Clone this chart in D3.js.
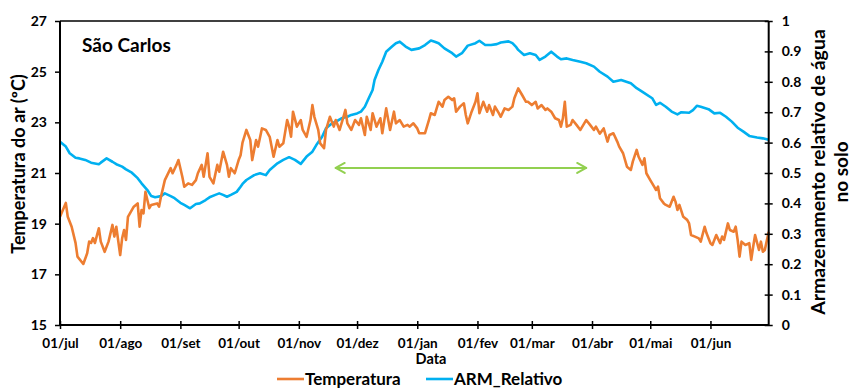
<!DOCTYPE html>
<html>
<head>
<meta charset="utf-8">
<script src="https://cdn.jsdelivr.net/npm/d3@7"></script>
<style>
  html, body { margin: 0; padding: 0; background: #fff; }
  svg { display: block; font-family: Lato, "Open Sans", sans-serif; }
</style>
</head>
<body>
<svg id="chart" width="852" height="388"></svg>
<script>
// ---------------- data (day offset from 01/jul) ----------------
const tempDays = [0,3,4,6,8,9,12,14,15,16,17,18,20,21,23,25,27,28,29,31,32,33,34,35,38,40,41,42,43,44,46,47,50,51,52,54,57,58,60,61,63,64,66,68,70,71,73,74,76,77,79,81,82,84,86,87,88,90,92,93,94,96,98,99,100,101,102,104,106,108,110,112,113,115,117,118,119,120,122,124,125,127,129,130,131,133,134,136,137,139,141,142,144,146,147,148,150,152,154,155,157,158,160,161,163,165,166,168,170,172,173,175,177,179,180,182,184,185,188,190,191,193,195,197,198,200,202,203,204,206,208,209,210,212,214,215,216,218,220,221,223,224,226,227,229,231,233,234,236,238,240,241,243,245,246,248,250,251,253,255,257,258,259,260,261,263,264,266,268,270,271,273,275,276,278,280,282,283,285,287,288,290,292,294,295,297,298,300,301,302,304,306,307,308,309,311,312,314,316,317,318,319,321,323,324,325,327,329,330,332,333,335,336,338,340,341,342,344,345,347,348,349,350,351,353,355,356,357,358,360,361,362,363,365];
const tempValues = [19.27,19.82,19.27,18.88,18.24,17.70,17.41,17.83,18.29,18.24,18.43,18.24,18.82,18.29,17.89,18.29,18.95,18.49,18.88,17.76,18.42,18.75,18.36,19.27,19.67,19.80,18.88,19.54,19.41,20.26,19.61,19.74,19.80,19.67,20.06,20.72,21.19,20.99,21.32,21.51,20.85,20.46,20.59,20.53,20.72,20.99,21.32,20.85,21.78,20.85,20.59,21.32,21.05,21.84,21.32,20.85,21.19,20.99,21.51,21.70,22.20,22.70,22.30,21.51,21.91,22.30,22.04,22.76,22.70,22.43,21.64,22.30,22.04,22.17,23.09,22.83,22.43,23.42,22.83,23.09,22.70,22.43,23.09,23.68,23.22,22.70,22.17,21.98,22.70,23.22,22.83,23.09,22.70,23.22,23.49,22.96,22.70,23.09,22.90,23.16,22.50,23.22,22.70,23.36,22.83,23.16,22.57,23.55,22.70,23.42,22.96,23.09,22.83,22.90,22.83,22.96,22.76,22.57,22.57,23.09,23.36,23.29,23.81,23.62,23.88,24.01,23.88,23.95,23.42,23.62,23.75,23.29,22.96,23.42,23.81,24.15,23.36,23.81,23.42,23.68,23.29,23.62,23.36,23.22,23.55,23.49,23.62,23.95,24.34,24.08,23.81,23.81,23.68,23.81,23.55,23.68,23.49,23.55,23.42,23.16,23.09,22.83,23.16,23.81,22.83,22.90,23.09,22.90,22.70,22.96,23.09,22.90,22.70,22.83,22.55,22.76,22.24,22.50,22.57,22.24,22.04,21.78,21.25,21.12,21.45,21.91,21.64,21.32,21.58,20.99,20.72,20.46,20.33,20.46,20.00,19.80,19.74,19.67,20.06,19.87,19.54,19.74,19.27,19.15,19.01,18.55,18.49,18.42,18.29,18.88,18.62,18.23,18.16,18.55,18.23,18.49,18.36,19.01,18.75,18.68,18.88,18.36,17.70,18.29,18.16,18.23,17.57,18.09,18.55,17.96,18.29,17.89,17.96,18.68];

const armDays = [0,3,5,8,10,13,16,20,21,24,27,29,32,34,37,40,42,45,47,49,52,54,57,59,62,64,67,70,72,75,77,80,82,84,86,88,91,93,94,96,100,103,106,108,112,115,118,121,124,127,130,132,135,137,140,143,145,148,150,153,155,157,159,161,162,164,166,168,171,173,175,178,181,185,188,191,193,195,198,202,204,207,210,214,216,219,222,225,227,231,233,235,236,239,242,245,247,250,253,256,258,261,264,268,271,275,278,282,285,289,294,297,300,305,307,309,312,315,318,320,324,326,328,330,334,337,340,343,346,349,352,355,359,362,365];
const armValues = [0.603,0.587,0.565,0.550,0.548,0.543,0.534,0.529,0.534,0.548,0.537,0.529,0.521,0.512,0.501,0.483,0.466,0.444,0.424,0.420,0.424,0.433,0.424,0.417,0.402,0.395,0.384,0.398,0.400,0.411,0.420,0.428,0.433,0.428,0.422,0.428,0.438,0.455,0.464,0.477,0.493,0.499,0.493,0.510,0.532,0.543,0.552,0.543,0.530,0.554,0.570,0.592,0.619,0.647,0.663,0.672,0.680,0.685,0.691,0.696,0.702,0.718,0.746,0.773,0.806,0.839,0.866,0.899,0.916,0.927,0.932,0.916,0.905,0.910,0.921,0.936,0.932,0.927,0.910,0.894,0.883,0.894,0.919,0.927,0.935,0.921,0.921,0.924,0.929,0.933,0.927,0.914,0.905,0.888,0.894,0.888,0.872,0.883,0.899,0.883,0.874,0.877,0.872,0.866,0.861,0.850,0.833,0.817,0.800,0.806,0.795,0.779,0.767,0.746,0.724,0.731,0.718,0.702,0.693,0.700,0.698,0.707,0.721,0.718,0.710,0.696,0.698,0.685,0.669,0.649,0.636,0.622,0.617,0.614,0.609];

const monthLabels = ["jul","ago","set","out","nov","dez","jan","fev","mar","abr","mai","jun"];
const tempTicks = [15,17,19,21,23,25,27];
const armTicks = [0,0.1,0.2,0.3,0.4,0.5,0.6,0.7,0.8,0.9,1];
const arrowStartDay = 142, arrowEndDay = 271, arrowLevel = 21.2;
const seriesNames = ["Temperatura","ARM_Relativo"];
const chartTitle = "São Carlos";

// ---------------- layout ----------------
const L = 60, R = 768.7, T = 21, B = 325;
const colT = "#ED7D31", colA = "#00B0F0", colG = "#92D050";
const start = new Date(2001, 6, 1), end = new Date(2002, 6, 1);
const dayDate = d => d3.timeDay.offset(start, d);

const x = d3.scaleTime().domain([start, end]).range([L, R]);
const yT = d3.scaleLinear().domain([15, 27]).range([B, T]);
const yA = d3.scaleLinear().domain([0, 1]).range([B, T]);

const svg = d3.select("#chart");
svg.append("rect").attr("width", 852).attr("height", 388).attr("fill", "#fff");

// top border
svg.append("line").attr("x1", L).attr("x2", R).attr("y1", T).attr("y2", T)
  .attr("stroke", "#000").attr("stroke-width", 1.3);

// series
const tempData = tempDays.map((d, i) => [dayDate(d), tempValues[i]]);
const armData = armDays.map((d, i) => [dayDate(d), armValues[i]]);

svg.append("path").datum(armData)
  .attr("fill", "none").attr("stroke", colA).attr("stroke-width", 2.6)
  .attr("stroke-linejoin", "round")
  .attr("d", d3.line().x(d => x(d[0])).y(d => yA(d[1])));

svg.append("path").datum(tempData)
  .attr("fill", "none").attr("stroke", colT).attr("stroke-width", 2.6)
  .attr("stroke-linejoin", "round")
  .attr("d", d3.line().x(d => x(d[0])).y(d => yT(d[1])));

// green double arrow
const ax1 = x(dayDate(arrowStartDay)), ax2 = x(dayDate(arrowEndDay)), ay = yT(arrowLevel);
const g = svg.append("g").attr("stroke", colG).attr("stroke-width", 2).attr("fill", "none")
  .attr("stroke-linecap", "round").attr("stroke-linejoin", "round");
g.append("line").attr("x1", ax1).attr("x2", ax2).attr("y1", ay).attr("y2", ay);
g.append("path").attr("d", `M${ax1 + 9},${ay - 5}L${ax1},${ay}L${ax1 + 9},${ay + 5}`);
g.append("path").attr("d", `M${ax2 - 9},${ay - 5}L${ax2},${ay}L${ax2 - 9},${ay + 5}`);

// left axis
const leftAxis = d3.axisLeft(yT).tickValues(tempTicks).tickSize(5).tickPadding(8).tickFormat(d3.format("d"));
const gl = svg.append("g").attr("transform", `translate(${L},0)`).call(leftAxis);
// right axis
const rightAxis = d3.axisRight(yA).tickValues(armTicks).tickSize(4).tickPadding(9)
  .tickFormat(d => d === 0 ? "0" : d === 1 ? "1" : d3.format(".1f")(d));
const gr = svg.append("g").attr("transform", `translate(${R},0)`).call(rightAxis);
gr.selectAll(".tick line").attr("x1", -4).attr("x2", 4);
// bottom axis
const months = d3.timeMonth.range(start, end);
const bottomAxis = d3.axisBottom(x).tickValues(months).tickSize(4).tickPadding(9)
  .tickFormat((d, i) => "01/" + monthLabels[i]);
const gb = svg.append("g").attr("transform", `translate(0,${B})`).call(bottomAxis);
gb.selectAll(".tick line").attr("y1", -4).attr("y2", 4);

[gl, gr, gb].forEach(a => {
  a.select(".domain").attr("stroke", "#000").attr("stroke-width", 2);
  a.selectAll(".tick line").attr("stroke", "#000").attr("stroke-width", 1.5);
  a.selectAll("text").attr("fill", "#000").attr("font-family", "Lato, sans-serif")
    .attr("font-weight", "bold").attr("font-size", 14);
});
gl.select(".domain").attr("d", `M0,${T}V${B}`);
gr.select(".domain").attr("d", `M0,${T}V${B}`);
gb.select(".domain").attr("d", `M${L},0H${R}`);
gb.selectAll("text").attr("font-size", 13.5).attr("font-weight", "bold");

// titles
svg.append("text").attr("x", 82).attr("y", 52).text(chartTitle)
  .attr("font-size", 19).attr("font-weight", "bold").attr("fill", "#000");

svg.append("text").attr("x", 431).attr("y", 364).attr("text-anchor", "middle")
  .text("Data").attr("font-size", 14.5).attr("font-weight", "bold").attr("fill", "#000");

svg.append("text").attr("transform", "translate(25,164) rotate(-90)").attr("text-anchor", "middle")
  .text("Temperatura do ar (ºC)").attr("font-size", 18).attr("font-weight", "bold").attr("fill", "#000");

svg.append("text").attr("transform", "translate(825,172) rotate(-90)").attr("text-anchor", "middle")
  .text("Armazenamento relativo de água").attr("font-size", 19.5).attr("font-weight", "bold").attr("fill", "#000");
svg.append("text").attr("transform", "translate(848,172) rotate(-90)").attr("text-anchor", "middle")
  .text("no solo").attr("font-size", 19).attr("font-weight", "bold").attr("fill", "#000");

// legend
const leg = [{x: 277, c: colT, n: seriesNames[0]}, {x: 426, c: colA, n: seriesNames[1]}];
leg.forEach(l => {
  svg.append("line").attr("x1", l.x).attr("x2", l.x + 27).attr("y1", 379).attr("y2", 379)
    .attr("stroke", l.c).attr("stroke-width", 2.6);
  svg.append("text").attr("x", l.x + 28).attr("y", 385).text(l.n)
    .attr("font-size", 17).attr("font-weight", "bold").attr("fill", "#000");
});
</script>
</body>
</html>
